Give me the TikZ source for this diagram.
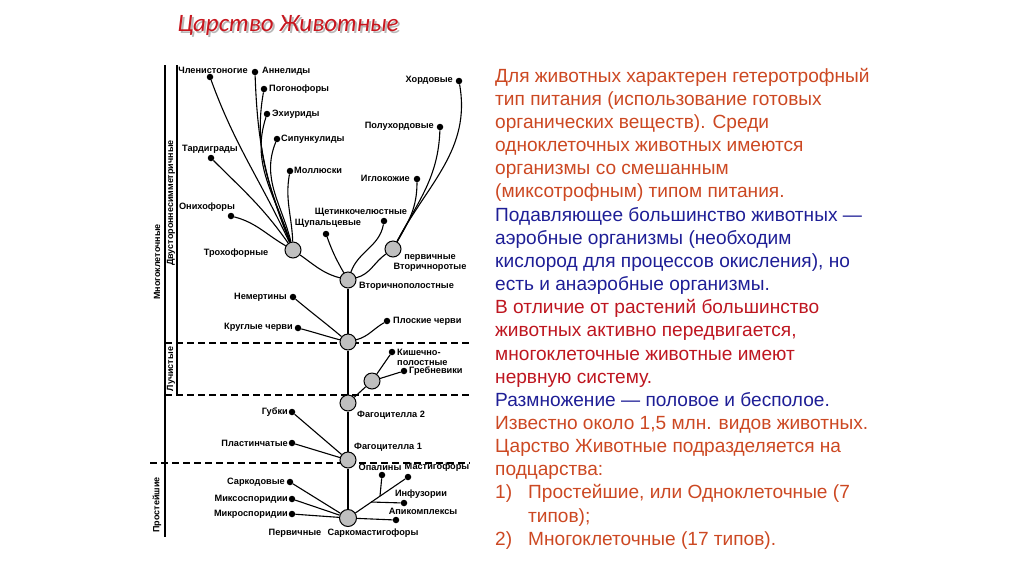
\documentclass[tikz,border=0pt]{standalone}
\usepackage{fontspec}
\setmainfont{Liberation Sans}
\newfontfamily\titlefont{Carlito}
\usepackage{tikz}
\usepackage{xcolor}
\definecolor{titlered}{RGB}{200,22,30}
\definecolor{txtorange}{RGB}{204,72,34}
\definecolor{txtred}{RGB}{190,22,32}
\definecolor{txtblue}{RGB}{30,30,150}

\begin{document}
\begin{tikzpicture}[x=1pt,y=1pt]
\tikzstyle{every node}+=[inner sep=0pt]
\tikzstyle{leaf}=[circle, fill=black, minimum size=6.5pt]
\tikzstyle{hub}=[circle, draw=black, fill=black!25, line width=1pt, minimum size=16pt]
\tikzstyle{lbl}=[font=\fontsize{9.2}{10}\selectfont\bfseries]
\tikzstyle{sidelbl}=[font=\fontsize{9}{10}\selectfont\bfseries, rotate=90]
\tikzstyle{branch}=[black, line width=1.1pt]
\tikzstyle{sep}=[black, line width=1.1pt, dash pattern=on 7pt off 4pt]
\tikzstyle{infotext}=[align=left, font=\fontsize{19.1}{23.15}\selectfont]
\useasboundingbox (0,0) rectangle (1024,-574);
% title
\node [font=\titlefont\itshape\fontsize{25}{28}\selectfont, text=black!28] (titleshade) at (290,-27) {Царство Животные};
\node [font=\titlefont\itshape\fontsize{25}{28}\selectfont, text=titlered] (title) at (288,-25) {Царство Животные};
% side bars and levels
\draw [black, line width=1.1pt] (165,-65) -- (165,-537);
\draw [black, line width=1.1pt] (177,-65) -- (177,-395);
\draw [sep] (165,-343) -- (470,-343);
\draw [sep] (165,-395) -- (470,-395);
\draw [sep] (150,-463) -- (470,-463);
\node [sidelbl] (mnogo) at (157,-262) {Многоклеточные};
\node [sidelbl] (dvus) at (171,-203) {Двустороннесимметричные};
\node [sidelbl] (luch) at (171,-369) {Лучистые};
\node [sidelbl] (prost) at (157,-505) {Простейшие};
% hubs
\node [hub, minimum size=17pt] (prim) at (348,-518) {};
\node [hub] (fag1) at (348,-460) {};
\node [hub] (fag2) at (348,-403) {};
\node [hub] (radi) at (372,-381) {};
\node [hub] (bila) at (348,-342) {};
\node [hub] (vtor) at (348,-280) {};
\node [hub] (deut) at (393,-249) {};
\node [hub] (troch) at (293,-250) {};
% leaves
\node [leaf] (chlen) at (210,-77) {};
\node [leaf] (annel) at (255,-72) {};
\node [leaf] (pogon) at (264,-89) {};
\node [leaf] (ehiur) at (267,-114) {};
\node [leaf] (sipun) at (277,-139) {};
\node [leaf] (tard) at (211,-158) {};
\node [leaf] (moll) at (290,-171) {};
\node [leaf] (onih) at (231,-216) {};
\node [leaf] (shchup) at (326,-234) {};
\node [leaf] (shchet) at (384,-221) {};
\node [leaf] (iglo) at (417,-179) {};
\node [leaf] (poluh) at (440,-127) {};
\node [leaf] (hord) at (459,-81) {};
\node [leaf] (nemer) at (293,-297) {};
\node [leaf] (krugl) at (298,-328) {};
\node [leaf] (plosk) at (387,-321) {};
\node [leaf] (kish) at (392,-352) {};
\node [leaf] (greb) at (404,-371) {};
\node [leaf] (gubki) at (292,-412) {};
\node [leaf] (plast) at (292,-443) {};
\node [leaf] (sark) at (290,-482) {};
\node [leaf] (miks) at (292,-499) {};
\node [leaf] (mikr) at (292,-514) {};
\node [leaf] (opal) at (382,-475) {};
\node [leaf] (mast) at (408,-477) {};
\node [leaf] (infuz) at (404,-503) {};
\node [leaf] (apik) at (396,-520) {};
\coordinate (jopal) at (380,-496);
\coordinate (jinf) at (371,-502);
% labels
\node [lbl] (chlenL) at (213,-70) {Членистоногие};
\node [lbl, anchor=west] (annelL) at (262,-71) {Аннелиды};
\node [lbl, anchor=west] (pogonL) at (269,-89) {Погонофоры};
\node [lbl, anchor=west] (ehiurL) at (272,-114) {Эхиуриды};
\node [lbl, anchor=west] (sipunL) at (281,-139) {Сипункулиды};
\node [lbl] (tardL) at (210,-149) {Тардиграды};
\node [lbl, anchor=west] (mollL) at (294,-170) {Моллюски};
\node [lbl] (onihL) at (207,-207) {Онихофоры};
\node [lbl] (trochL) at (236,-253) {Трохофорные};
\node [lbl] (shchupL) at (328,-223) {Щупальцевые};
\node [lbl] (shchetL) at (361,-212) {Щетинкочелюстные};
\node [lbl, anchor=east] (igloL) at (410,-178) {Иглокожие};
\node [lbl, anchor=east] (poluhL) at (434,-126) {Полухордовые};
\node [lbl, anchor=east] (hordL) at (453,-80) {Хордовые};
\node [lbl, anchor=west] (vtorL) at (359,-286) {Вторичнополостные};
\node [lbl, align=center] (deutL) at (430,-263) {первичные\\Вторичноротые};
\node [lbl, anchor=east] (nemerL) at (287,-297) {Немертины};
\node [lbl, anchor=east] (kruglL) at (293,-327) {Круглые черви};
\node [lbl, anchor=west] (ploskL) at (393,-321) {Плоские черви};
\node [lbl, anchor=west, align=left] (kishL) at (397,-357) {Кишечно-\\полостные};
\node [lbl, anchor=west] (grebL) at (409,-371) {Гребневики};
\node [lbl, anchor=east] (gubkiL) at (288,-412) {Губки};
\node [lbl, anchor=west] (fag2L) at (357,-415) {Фагоцителла 2};
\node [lbl, anchor=east] (plastL) at (288,-443) {Пластинчатые};
\node [lbl, anchor=west] (fag1L) at (354,-447) {Фагоцителла 1};
\node [lbl] (opalL) at (380,-467) {Опалины};
\node [lbl] (mastL) at (437,-467) {Мастигофоры};
\node [lbl] (infuzL) at (421,-494) {Инфузории};
\node [lbl] (apikL) at (423,-511) {Апикомплексы};
\node [lbl, anchor=east] (sarkL) at (285,-482) {Саркодовые};
\node [lbl, anchor=east] (miksL) at (288,-499) {Миксоспоридии};
\node [lbl, anchor=east] (mikrL) at (288,-514) {Микроспоридии};
\node [lbl] (primL) at (295,-533) {Первичные};
\node [lbl] (sarkmL) at (373,-533) {Саркомастигофоры};
% trunk
\draw [branch] (prim) -- (fag1);
\draw [branch] (fag1) -- (fag2);
\draw [branch] (fag2) -- (bila);
\draw [branch] (bila) -- (vtor);
\draw [branch] (fag2) -- (radi);
\draw [branch] (radi) -- (kish);
\draw [branch] (radi) -- (greb);
\draw [branch] (fag1) -- (gubki);
\draw [branch] (fag1) -- (plast);
\draw [branch] (prim) -- (sark);
\draw [branch] (prim) -- (miks);
\draw [branch] (prim) -- (mikr);
\draw [branch] (prim) -- (apik);
\draw [branch] (prim) -- (mast);
\draw [branch] (jopal) -- (opal);
\draw [branch] (jinf) -- (infuz);
\draw [branch] (bila) to[out=140,in=-40] (nemer);
\draw [branch] (bila) to[out=165,in=-15] (krugl);
\draw [branch] (bila) to[out=15,in=-150] (plosk);
% bilateria crown
\draw [branch] (vtor) to[out=165,in=-35] (troch);
\draw [branch] (vtor) to[out=15,in=-145] (deut);
\draw [branch] (vtor) to[out=120,in=-70] (shchup);
\draw [branch] (vtor) to[out=70,in=-100] (shchet);
\draw [branch] (deut) to[out=60,in=-90] (iglo);
\draw [branch] (deut) to[out=62,in=-92] (poluh);
\draw [branch] (deut) to[out=62,in=-80] (hord);
\draw [branch] (troch) to[out=115,in=-70] (chlen);
\draw [branch] (troch) to[out=112,in=-88] (annel);
\draw [branch] (troch) to[out=110,in=-100] (pogon);
\draw [branch] (troch) to[out=108,in=-108] (ehiur);
\draw [branch] (troch) to[out=104,in=-112] (sipun);
\draw [branch] (troch) to[out=92,in=-100] (moll);
\draw [branch] (troch) to[out=125,in=-45] (tard);
\draw [branch] (troch) to[out=150,in=-15] (onih);
% text
\node [infotext, anchor=north west] (info) at (495,-64) {%
\rule{0pt}{18pt}\color{txtorange}Для животных характерен гетеротрофный\\
\color{txtorange}тип питания (использование готовых\\
\color{txtorange}органических веществ). Среди\\
\color{txtorange}одноклеточных животных имеются\\
\color{txtorange}организмы со смешанным\\
\color{txtorange}(миксотрофным) типом питания.\\
\color{txtblue}Подавляющее большинство животных —\\
\color{txtblue}аэробные организмы (необходим\\
\color{txtblue}кислород для процессов окисления), но\\
\color{txtblue}есть и анаэробные организмы.\\
\color{txtred}В отличие от растений большинство\\
\color{txtred}животных активно передвигается,\\
\color{txtred}многоклеточные животные имеют\\
\color{txtred}нервную систему.\\
\color{txtblue}Размножение — половое и бесполое.\\
\color{txtorange}Известно около 1,5 млн. видов животных.\\
\color{txtorange}Царство Животные подразделяется на\\
\color{txtorange}подцарства:\\
\color{txtorange}\makebox[33pt][l]{1)}Простейшие, или Одноклеточные (7\\
\color{txtorange}\hspace*{33pt}типов);\\
\color{txtorange}\makebox[33pt][l]{2)}Многоклеточные (17 типов).};
\end{tikzpicture}
\end{document}
